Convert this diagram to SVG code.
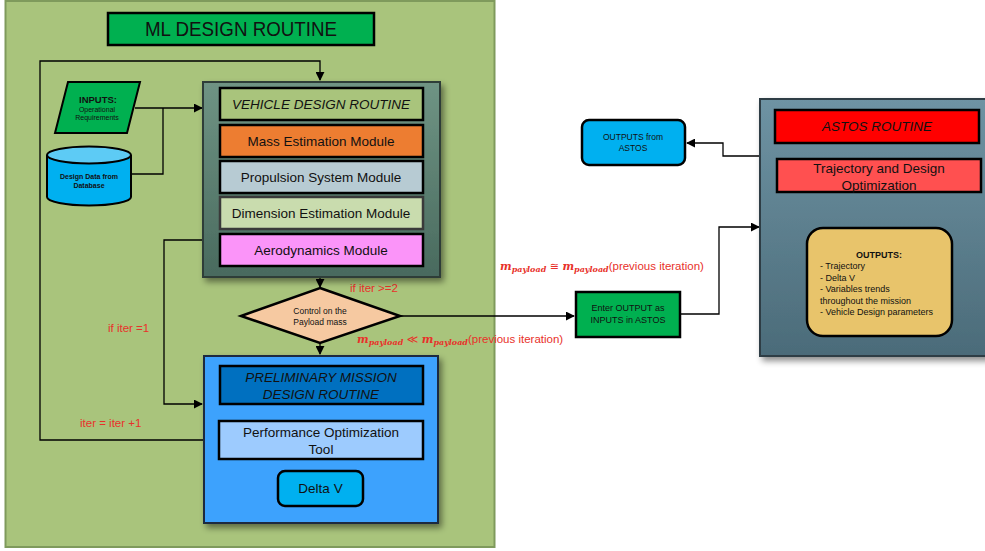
<svg xmlns="http://www.w3.org/2000/svg" width="985" height="551" viewBox="0 0 985 551">
<defs>
<linearGradient id="gVeh" x1="0" y1="0" x2="0" y2="1"><stop offset="0" stop-color="#6f9484"/><stop offset="1" stop-color="#496a5e"/></linearGradient>
<linearGradient id="gAst" x1="0" y1="0" x2="0" y2="1"><stop offset="0" stop-color="#6e93a3"/><stop offset="1" stop-color="#4b6b79"/></linearGradient>
<filter id="sh" x="-10%" y="-10%" width="125%" height="125%"><feDropShadow dx="3" dy="4" stdDeviation="3" flood-color="#000" flood-opacity="0.45"/></filter>
<marker id="ar" viewBox="0 0 10 10" refX="9" refY="5" markerWidth="9" markerHeight="9" markerUnits="userSpaceOnUse" orient="auto"><path d="M0,0 L10,5 L0,10 z" fill="#000"/></marker>
</defs>
<style>
text{font-family:"Liberation Sans",Arial,sans-serif;fill:#111}
.bx{stroke:#000;stroke-width:2.5}
.mod{font-size:13.5px}
.it{font-style:italic}
.red{fill:#e8312a;font-size:11.5px}
.cn{fill:none;stroke:#000;stroke-width:1.3}
.math{font-family:"DejaVu Serif","Liberation Serif",serif;font-style:italic;font-weight:bold;fill:#e8312a}
</style>
<rect width="985" height="551" fill="#fff"/>
<g id="ml-panel">
<rect x="5.5" y="1" width="489" height="546" fill="#a9c47c" stroke="#7f9a5c" stroke-width="2"/>
</g>
<g id="title">
<rect x="108" y="13" width="266" height="32" fill="#00b050" class="bx"/>
<text x="241" y="36" font-size="20" text-anchor="middle" textLength="192" lengthAdjust="spacingAndGlyphs">ML DESIGN ROUTINE</text>
</g>
<g id="connectors">
<polyline class="cn" points="204,440 40,440 40,61 320,61 320,80" marker-end="url(#ar)"/>
<polyline class="cn" points="135,108 202,108" marker-end="url(#ar)"/>
<polyline class="cn" points="132,174 163,174 163,108"/>
<polyline class="cn" points="320,277 320,287" marker-end="url(#ar)"/>
<polyline class="cn" points="320,343 320,354" marker-end="url(#ar)"/>
<polyline class="cn" points="204,240 164,240 164,404 202,404" marker-end="url(#ar)"/>
<polyline class="cn" points="400,316 574,316" marker-end="url(#ar)"/>
<polyline class="cn" points="680,314 719,314 719,227 759,227" marker-end="url(#ar)"/>
<polyline class="cn" points="760,156 723,156 723,143 687,143" marker-end="url(#ar)"/>
<polyline class="cn" points="879,192 879,227" marker-end="url(#ar)"/>
<polyline class="cn" points="320,459 320,470" marker-end="url(#ar)"/>
<text class="red" x="350" y="292">if iter &gt;=2</text>
<text class="red" x="108" y="332">if iter =1</text>
<text class="red" x="80" y="427">iter = iter +1</text>
<text x="500" y="270" font-size="11"><tspan class="math">m</tspan><tspan class="math" font-size="8" dy="2">payload</tspan><tspan dy="-2" fill="#e8312a" font-family="DejaVu Sans"> ≅ </tspan><tspan class="math">m</tspan><tspan class="math" font-size="8" dy="2">payload</tspan><tspan dy="-2" fill="#e8312a" font-size="11.5">(previous iteration)</tspan></text>
<text x="357" y="343" font-size="11"><tspan class="math">m</tspan><tspan class="math" font-size="8" dy="2">payload</tspan><tspan dy="-2" fill="#e8312a" font-family="DejaVu Sans"> ≪ </tspan><tspan class="math">m</tspan><tspan class="math" font-size="8" dy="2">payload</tspan><tspan dy="-2" fill="#e8312a" font-size="11.5">(previous iteration)</tspan></text>
</g>
<g id="inputs">
<polygon points="68,82 140,82 127,133 55,133" fill="#00b050" stroke="#000" stroke-width="2"/>
<text x="98" y="103" font-size="9.5" font-weight="bold" text-anchor="middle">INPUTS:</text>
<text x="97" y="111.5" font-size="7" text-anchor="middle">Operational</text>
<text x="97" y="120" font-size="7" text-anchor="middle">Requirements</text>
</g>
<g id="database">
<path d="M47,155 L47,197 A42,8.5 0 0 0 131,197 L131,155" fill="#00b0f0" stroke="#000" stroke-width="2"/>
<ellipse cx="89" cy="155" rx="42" ry="8.5" fill="#5dcbf5" stroke="#000" stroke-width="2"/>
<text x="89" y="179" font-size="7" font-weight="bold" text-anchor="middle">Design Data from</text>
<text x="89" y="187.5" font-size="7" font-weight="bold" text-anchor="middle">Database</text>
</g>
<g id="vehicle-routine">
<rect x="203" y="82" width="237" height="195" fill="url(#gVeh)" stroke="#2e3e38" stroke-width="2" filter="url(#sh)"/>
<rect x="220" y="88" width="203" height="32" fill="#a9c47c" class="bx"/>
<text x="321" y="109" class="mod it" text-anchor="middle">VEHICLE DESIGN ROUTINE</text>
</g>
<g id="mass-estimation">
<rect x="220" y="125" width="203" height="32" fill="#ed7d31" class="bx"/>
<text x="321" y="146" class="mod" text-anchor="middle">Mass Estimation Module</text>
</g>
<g id="propulsion">
<rect x="220" y="161" width="203" height="32" fill="#b7cbd3" class="bx"/>
<text x="321" y="182" class="mod" text-anchor="middle">Propulsion System Module</text>
</g>
<g id="dimension">
<rect x="220" y="197" width="203" height="32" fill="#c9dcae" stroke="#3a3a3a" stroke-width="2.5"/>
<text x="321" y="218" class="mod" text-anchor="middle">Dimension Estimation Module</text>
</g>
<g id="aerodynamics">
<rect x="220" y="234" width="203" height="32" fill="#fb94f9" class="bx"/>
<text x="321" y="255" class="mod" text-anchor="middle">Aerodynamics Module</text>
</g>
<g id="control">
<polygon points="320,288 400,316 320,343 241,316" fill="#f6c9a1" stroke="#000" stroke-width="2.5"/>
<text x="320" y="314" font-size="8.5" text-anchor="middle">Control on the</text>
<text x="320" y="325" font-size="8.5" text-anchor="middle">Payload mass</text>
</g>
<g id="mission-routine">
<rect x="204" y="356" width="234" height="167" fill="#3ca2fd" stroke="#1a2a40" stroke-width="2" filter="url(#sh)"/>
<rect x="220" y="366" width="203" height="38" fill="#0070c0" class="bx"/>
<text x="321" y="382" class="mod it" text-anchor="middle">PRELIMINARY MISSION</text>
<text x="321" y="399" class="mod it" text-anchor="middle">DESIGN ROUTINE</text>
</g>
<g id="performance">
<rect x="219" y="421" width="204" height="38" fill="#9dcbfe" class="bx"/>
<text x="321" y="437" class="mod" text-anchor="middle">Performance Optimization</text>
<text x="321" y="454" class="mod" text-anchor="middle">Tool</text>
</g>
<g id="delta-v">
<rect x="278" y="471" width="85" height="35" rx="7" fill="#00b0f0" class="bx"/>
<text x="320.5" y="493" class="mod" text-anchor="middle">Delta V</text>
</g>
<g id="enter-output">
<rect x="576" y="292" width="104" height="45" fill="#00b050" class="bx"/>
<text x="628" y="311" font-size="9" text-anchor="middle">Enter OUTPUT as</text>
<text x="628" y="323" font-size="9" text-anchor="middle">INPUTS in ASTOS</text>
</g>
<g id="astos-routine">
<rect x="760" y="99" width="235" height="257" fill="url(#gAst)" stroke="#2e3e44" stroke-width="2" filter="url(#sh)"/>
<rect x="775" y="110" width="204" height="33" fill="#ff0000" class="bx"/>
<text x="877" y="131" class="mod it" text-anchor="middle">ASTOS ROUTINE</text>
</g>
<g id="trajectory">
<rect x="777" y="159" width="204" height="33" fill="#ff5050" class="bx"/>
<text x="879" y="173" class="mod" text-anchor="middle">Trajectory and Design</text>
<text x="879" y="190" class="mod" text-anchor="middle">Optimization</text>
</g>
<g id="outputs">
<rect x="807" y="228" width="145" height="108" rx="16" fill="#e8c46b" class="bx"/>
<text x="879" y="258" font-size="9" font-weight="bold" text-anchor="middle">OUTPUTS:</text>
<text x="820" y="269" font-size="9">- Trajectory</text>
<text x="820" y="280.5" font-size="9">- Delta V</text>
<text x="820" y="292" font-size="9">- Variables trends</text>
<text x="820" y="303.5" font-size="9">throughout the mission</text>
<text x="820" y="315" font-size="9">- Vehicle Design parameters</text>
</g>
<g id="outputs-astos">
<rect x="582" y="120" width="103" height="45" rx="7" fill="#00b0f0" class="bx"/>
<text x="633" y="140" font-size="8.5" text-anchor="middle">OUTPUTS from</text>
<text x="633" y="151" font-size="8.5" text-anchor="middle">ASTOS</text>
</g>
</svg>
